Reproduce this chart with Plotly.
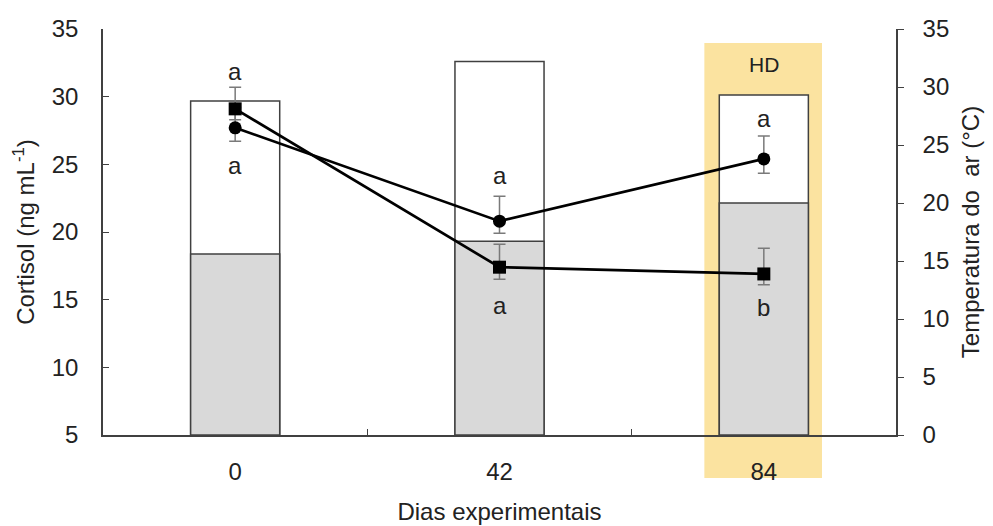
import plotly.graph_objects as go

days = ["0", "42", "84"]
temp_max = [28.8, 32.2, 29.3]
temp_min = [15.6, 16.7, 20.0]

cort_sq = [29.1, 17.4, 16.9]
cort_sq_up = [1.6, 1.7, 1.9]
cort_sq_dn = [0.8, 0.9, 0.8]

cort_ci = [27.7, 20.8, 25.4]
cort_ci_up = [1.5, 1.85, 1.7]
cort_ci_dn = [1.0, 0.9, 1.06]

letters = ["a", "a", "a", "a", "a", "b"]
letter_day = [0, 0, 1, 1, 2, 2]  # index into days
letter_y = [31.85, 24.9, 24.2, 14.6, 28.4, 14.4]

highlight_day = 2
highlight_label = "HD"

FONT = "Liberation Sans, Arial, sans-serif"
EDGE = "#404040"

fig = go.Figure()

fig.add_trace(go.Bar(x=days, y=temp_max, yaxis="y", width=0.337,
                     marker=dict(color="white", line=dict(color=EDGE, width=1.5)),
                     showlegend=False))
fig.add_trace(go.Bar(x=days, y=temp_min, yaxis="y", width=0.337,
                     marker=dict(color="#d9d9d9", line=dict(color=EDGE, width=1.5)),
                     showlegend=False))

err_style = dict(type="data", symmetric=False, color="#7a7a7a", thickness=1.5, width=6)

fig.add_trace(go.Scatter(x=days, y=cort_ci, yaxis="y2", mode="lines+markers",
                         line=dict(color="black", width=2.7),
                         marker=dict(symbol="circle", size=13, color="black"),
                         error_y=dict(array=cort_ci_up, arrayminus=cort_ci_dn, **err_style),
                         showlegend=False))
fig.add_trace(go.Scatter(x=days, y=cort_sq, yaxis="y2", mode="lines+markers",
                         line=dict(color="black", width=2.7),
                         marker=dict(symbol="square", size=13, color="black"),
                         error_y=dict(array=cort_sq_up, arrayminus=cort_sq_dn, **err_style),
                         showlegend=False))

for t, xi, yy in zip(letters, letter_day, letter_y):
    fig.add_annotation(x=xi, y=yy, xref="x", yref="y2", text=t, showarrow=False,
                       font=dict(family=FONT, size=24, color="#222"))

fig.add_annotation(x=highlight_day, y=0.945, xref="x", yref="paper", text=highlight_label,
                   showarrow=False, font=dict(family=FONT, size=21, color="#222"))

fig.add_shape(type="rect", xref="x", yref="paper",
              x0=highlight_day - 0.225, x1=highlight_day + 0.22, y0=-0.106, y1=0.9655,
              fillcolor="#fbe3a0", line=dict(width=0), layer="below")

fig.update_layout(
    width=993, height=526,
    margin=dict(l=103, r=97, t=29, b=91),
    paper_bgcolor="white", plot_bgcolor="rgba(0,0,0,0)",
    barmode="overlay",
    font=dict(family=FONT, size=24, color="#222"),
    xaxis=dict(type="category", range=[-0.5, 2.5], tickson="boundaries", automargin=False,
               ticks="inside", ticklen=6, tickcolor=EDGE, showline=True, linecolor=EDGE,
               linewidth=1.5, showgrid=False, ticklabelstandoff=14,
               title=dict(text="Dias experimentais", font=dict(size=24), standoff=20)),
    yaxis=dict(range=[0, 35], dtick=5, side="right", ticks="outside", ticklen=6, automargin=False,
               tickcolor=EDGE, showline=True, linecolor=EDGE, linewidth=1.5,
               showgrid=False, zeroline=False, ticklabelstandoff=14,
               title=dict(text="Temperatura do  ar (°C)", font=dict(size=24), standoff=14)),
    yaxis2=dict(range=[5, 35], dtick=5, side="left", overlaying="y", anchor="x", automargin=False,
                ticks="inside", ticklen=6, tickcolor=EDGE, showline=True, linecolor=EDGE,
                linewidth=1.5, showgrid=False, zeroline=False, ticklabelstandoff=18,
                title=dict(text="Cortisol (ng mL<sup>-1</sup>)", font=dict(size=24), standoff=10)),
)

fig.write_html("out.html", config={"displayModeBar": False},
               post_script="document.body.style.margin='0';document.body.style.overflow='hidden';")
